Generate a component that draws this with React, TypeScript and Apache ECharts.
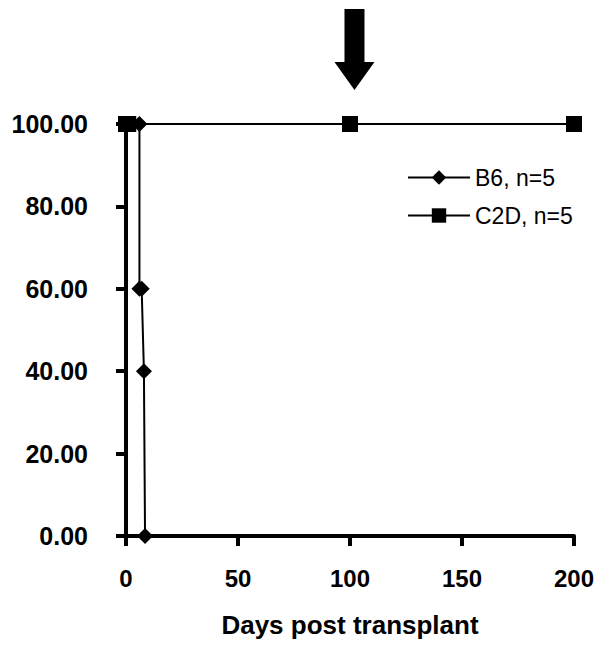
import React, { useEffect, useRef } from "react";
import * as echarts from "echarts";

const b6Days = [0, 6, 6, 7, 8, 8.5];
const b6Surv = [100, 100, 60, 60, 40, 0];
const c2dDays = [0, 1, 100, 200];
const c2dSurv = [100, 100, 100, 100];
const arrowDay = 102;
const arrowLevel = 100;

const FONT = "Liberation Sans, Arial, sans-serif";

export default function App() {
  const ref = useRef<HTMLDivElement>(null);
  useEffect(() => {
    if (!ref.current) return;
    const chart = echarts.init(ref.current, undefined, { renderer: "svg" });
    const b6 = b6Days.map((d, i) => [d, b6Surv[i]]);
    const c2d = c2dDays.map((d, i) => [d, c2dSurv[i]]);
    chart.setOption({
      animation: false,
      backgroundColor: "#ffffff",
      grid: { left: 126, right: 27, top: 124, bottom: 112, containLabel: false },
      legend: {
        orient: "vertical",
        left: 402,
        top: 161,
        itemWidth: 62,
        itemHeight: 18,
        itemGap: 15,
        textStyle: { fontFamily: FONT, fontSize: 23, color: "#000" },
        data: ["B6, n=5", "C2D, n=5"],
      },
      xAxis: {
        type: "value",
        min: 0,
        max: 200,
        interval: 50,
        name: "Days post transplant",
        nameLocation: "middle",
        nameGap: 76,
        nameTextStyle: { fontFamily: FONT, fontSize: 26, fontWeight: "bold", color: "#000" },
        axisLine: { show: true, lineStyle: { color: "#000", width: 4 } },
        axisTick: { show: true, inside: false, length: 10, lineStyle: { color: "#000", width: 4 } },
        axisLabel: { fontFamily: FONT, fontSize: 24, fontWeight: "bold", color: "#000", margin: 30 },
        splitLine: { show: false },
      },
      yAxis: {
        type: "value",
        min: 0,
        max: 100,
        interval: 20,
        axisLine: { show: true, lineStyle: { color: "#000", width: 4 } },
        axisTick: { show: true, inside: false, length: 10, lineStyle: { color: "#000", width: 4 } },
        axisLabel: {
          fontFamily: FONT,
          fontSize: 25,
          fontWeight: "bold",
          color: "#000",
          margin: 38,
          formatter: (v: number) => v.toFixed(2),
        },
        splitLine: { show: false },
      },
      series: [
        {
          name: "B6, n=5",
          type: "line",
          data: b6,
          clip: false,
          symbol: "diamond",
          symbolSize: 16,
          showAllSymbol: true,
          lineStyle: { color: "#000", width: 2 },
          itemStyle: { color: "#000" },
        },
        {
          name: "C2D, n=5",
          type: "line",
          data: c2d,
          clip: false,
          symbol: "rect",
          symbolSize: 16,
          showAllSymbol: true,
          lineStyle: { color: "#000", width: 2 },
          itemStyle: { color: "#000" },
        },
      ],
    });
    const p = chart.convertToPixel({ gridIndex: 0 }, [arrowDay, arrowLevel]) as number[];
    const x = p[0];
    const y = p[1];
    chart.setOption({
      graphic: [
        {
          type: "polygon",
          shape: {
            points: [
              [x - 10, y - 115],
              [x + 10, y - 115],
              [x + 10, y - 62],
              [x + 20, y - 62],
              [x, y - 34],
              [x - 20, y - 62],
              [x - 10, y - 62],
            ],
          },
          style: { fill: "#000" },
        },
      ],
    });
    return () => chart.dispose();
  }, []);
  return (
    <div
      ref={ref}
      style={{ position: "absolute", left: 0, top: 0, width: 601, height: 648 }}
    />
  );
}
